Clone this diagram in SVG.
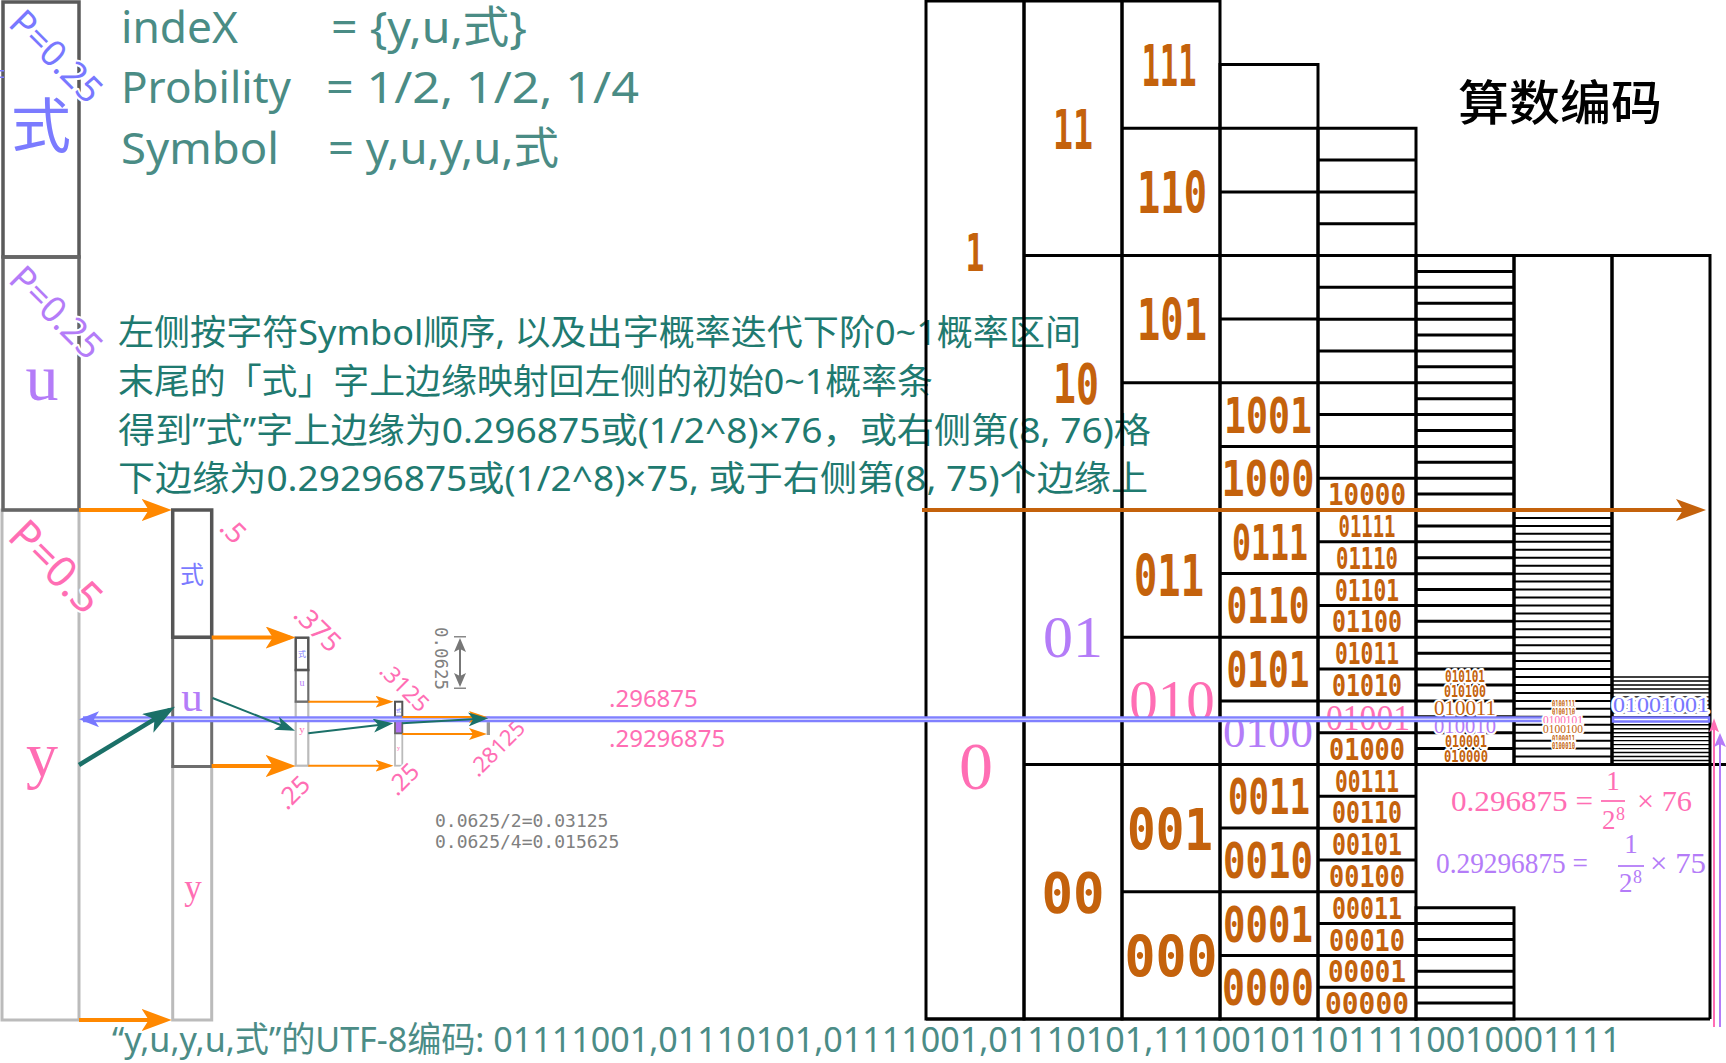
<svg xmlns="http://www.w3.org/2000/svg" width="1726" height="1063" viewBox="0 0 1726 1063">
<style>
.g3{fill:none;stroke:#000;stroke-width:3}
.g2{fill:none;stroke:#000;stroke-width:2}
.g1{fill:none;stroke:#000;stroke-width:1.4}
.bin{font-family:'DejaVu Sans Mono',monospace;font-weight:bold;fill:#c4620c;text-anchor:middle}
.ser{font-family:'Liberation Serif',serif;text-anchor:middle}
.pk{fill:#ff6eb4}.pu{fill:#b47cf8}.bl{fill:#7878ff}.br{fill:#c4620c}
.halo{stroke:#fff;stroke-width:4;paint-order:stroke;stroke-linejoin:round}
.lab{font-family:'Noto Sans',sans-serif;fill:#ff6eb4}
.cn{font-family:'Noto Sans','Noto Sans CJK SC',sans-serif}
.mono{font-family:'DejaVu Sans Mono',monospace;fill:#808080}
.oa{fill:none;stroke:#ff8800;stroke-width:4}
.oas{fill:none;stroke:#ff8800;stroke-width:2}
.ta{fill:none;stroke:#1b7068;stroke-width:4.5}
.tas{fill:none;stroke:#1b7068;stroke-width:2}
</style>
<defs>
<marker id="ah-or" viewBox="0 0 30 22" markerUnits="userSpaceOnUse" markerWidth="30" markerHeight="22" refX="24" refY="11" orient="auto"><path d="M0,0 L30,11 L0,22 L7,11 Z" fill="#ff8800"/></marker>
<marker id="ah-ors" viewBox="0 0 18 12" markerUnits="userSpaceOnUse" markerWidth="18" markerHeight="12" refX="14" refY="6" orient="auto"><path d="M0,0 L18,6 L0,12 L4,6 Z" fill="#ff8800"/></marker>
<marker id="ah-teal" viewBox="0 0 32 22" markerUnits="userSpaceOnUse" markerWidth="32" markerHeight="22" refX="26" refY="11" orient="auto"><path d="M0,0 L32,11 L0,22 L8,11 Z" fill="#1b7068"/></marker>
<marker id="ah-teals" viewBox="0 0 20 14" markerUnits="userSpaceOnUse" markerWidth="20" markerHeight="14" refX="16" refY="7" orient="auto"><path d="M0,0 L20,7 L0,14 L5,7 Z" fill="#1b7068"/></marker>
<marker id="ah-blue" viewBox="0 0 20 16" markerUnits="userSpaceOnUse" markerWidth="20" markerHeight="16" refX="16" refY="8" orient="auto"><path d="M0,0 L20,8 L0,16 L5,8 Z" fill="#7878ff"/></marker>
<marker id="ah-brown" viewBox="0 0 30 22" markerUnits="userSpaceOnUse" markerWidth="30" markerHeight="22" refX="24" refY="11" orient="auto"><path d="M0,0 L30,11 L0,22 L7,11 Z" fill="#c4620c"/></marker>
<marker id="ah-gray" viewBox="0 0 14 12" markerUnits="userSpaceOnUse" markerWidth="14" markerHeight="12" refX="10" refY="6" orient="auto-start-reverse"><path d="M0,0 L14,6 L0,12 L3,6 Z" fill="#777"/></marker>
<marker id="ah-pink" viewBox="0 0 14 10" markerUnits="userSpaceOnUse" markerWidth="14" markerHeight="10" refX="10" refY="5" orient="auto"><path d="M0,0 L14,5 L0,10 L3,5 Z" fill="#ff6eb4"/></marker>
<marker id="ah-purple" viewBox="0 0 14 12" markerUnits="userSpaceOnUse" markerWidth="14" markerHeight="12" refX="10" refY="6" orient="auto"><path d="M0,0 L14,6 L0,12 L3,6 Z" fill="#b47cf8"/></marker>
</defs>
<rect width="1726" height="1063" fill="#fff"/>

<!-- header text -->
<g id="header" font-family="'Noto Sans','Noto Sans CJK SC',sans-serif" font-size="44" fill="#4a8c85">
<text x="121" y="43" textLength="117" lengthAdjust="spacingAndGlyphs">indeX</text>
<text x="331" y="43" textLength="196" lengthAdjust="spacingAndGlyphs">= {y,u,式}</text>
<text x="121" y="103" textLength="170" lengthAdjust="spacingAndGlyphs">Probility</text>
<text x="326" y="103" textLength="313" lengthAdjust="spacingAndGlyphs">= 1/2, 1/2, 1/4</text>
<text x="121" y="164" textLength="158" lengthAdjust="spacingAndGlyphs">Symbol</text>
<text x="328" y="164" textLength="231" lengthAdjust="spacingAndGlyphs">= y,u,y,u,式</text>
</g>

<g id="note" class="cn" font-size="35" fill="#1f7a70">
<text x="118" y="345" textLength="963" lengthAdjust="spacingAndGlyphs">左侧按字符Symbol顺序, 以及出字概率迭代下阶0~1概率区间</text>
<text x="118" y="394" textLength="815" lengthAdjust="spacingAndGlyphs">末尾的「式」字上边缘映射回左侧的初始0~1概率条</text>
<text x="118" y="443" textLength="1033" lengthAdjust="spacingAndGlyphs">得到”式”字上边缘为0.296875或(1/2^8)×76，或右侧第(8, 76)格</text>
<text x="118" y="491" textLength="1030" lengthAdjust="spacingAndGlyphs">下边缘为0.29296875或(1/2^8)×75, 或于右侧第(8, 75)个边缘上</text>
</g>

<g id="title">
<text x="1458" y="120" font-family="'Noto Sans CJK SC',sans-serif" font-size="48" font-weight="500" fill="#000" textLength="204" lengthAdjust="spacingAndGlyphs">算数编码</text>
</g>

<g id="utf8">
<text x="112" y="1052" class="cn" font-size="35" fill="#4b8c86" textLength="1509" lengthAdjust="spacingAndGlyphs">“y,u,y,u,式”的UTF-8编码: 01111001,01110101,01111001,01110101,111001011011110010001111</text>
</g>

<!-- left probability bar -->
<g id="bar-y">
<rect x="2" y="510" width="77" height="510" fill="none" stroke="#bbb" stroke-width="3"/>
<text class="lab halo" font-size="43" transform="translate(6,538) rotate(45)">P=0.5</text>
<text class="ser pk" x="42" y="776" font-size="64">y</text>
</g>
<g id="bar-shi">
<rect x="3" y="2" width="76" height="255" fill="none" stroke="#5a5a5a" stroke-width="3.5"/>
<text class="lab halo" font-size="36" style="fill:#7878ff" transform="translate(7,25) rotate(45)">P=0.25</text>
<text x="41" y="148" font-family="'Noto Sans CJK SC',sans-serif" font-size="60" text-anchor="middle" fill="#7b7bff">式</text>
<path d="M0,70.7 H4 M0,77.3 H4" stroke="#7b7bff" stroke-width="1.5"/>
</g>
<g id="bar-u">
<rect x="3" y="257" width="76" height="253" fill="none" stroke="#666" stroke-width="3.5"/>
<text class="lab halo" font-size="36" style="fill:#b47cf8" transform="translate(7,281) rotate(45)">P=0.25</text>
<text class="ser pu" x="42" y="400" font-size="66">u</text>
</g>

<!-- iteration 1 -->
<g id="step1">
<rect x="172.7" y="766.5" width="39" height="253.5" fill="none" stroke="#bbb" stroke-width="3"/>
<rect x="172.7" y="637.3" width="39" height="129.2" fill="none" stroke="#6e6e6e" stroke-width="3"/>
<rect x="172.7" y="510" width="39" height="127.3" fill="none" stroke="#555" stroke-width="3.5"/>
<text x="192" y="583" font-family="'Noto Sans CJK SC',sans-serif" font-size="24" text-anchor="middle" fill="#7b7bff">式</text>
<text class="ser pu" x="192" y="711" font-size="43">u</text>
<text class="ser pk" x="193" y="899" font-size="35">y</text>
<text class="lab halo" font-size="28" transform="translate(218,529) rotate(45)">.5</text>
</g>
<g id="step2">
<rect x="295.7" y="701.7" width="12.6" height="64" fill="none" stroke="#bbb" stroke-width="2.2"/>
<rect x="295.7" y="670" width="12.6" height="31.7" fill="none" stroke="#6e6e6e" stroke-width="2.2"/>
<rect x="295.7" y="637.7" width="12.6" height="32.3" fill="none" stroke="#555" stroke-width="2.5"/>
<text x="302" y="657" font-family="'Noto Sans CJK SC',sans-serif" font-size="8" text-anchor="middle" fill="#7b7bff">式</text>
<text class="ser pu" x="302" y="686" font-size="10">u</text>
<text class="ser pk" x="302" y="733" font-size="11">y</text>
<text class="lab halo" font-size="27" transform="translate(292,616) rotate(45)">.375</text>
<text class="lab halo" font-size="25" transform="translate(287,811) rotate(-45)">.25</text>
</g>
<g id="step3">
<rect x="395" y="733.3" width="7.3" height="32.4" fill="none" stroke="#bbb" stroke-width="1.8"/>
<rect x="395" y="716.7" width="7.3" height="16.6" fill="#b070f0" stroke="#666" stroke-width="1.8"/>
<rect x="395" y="701.7" width="7.3" height="15" fill="none" stroke="#555" stroke-width="2"/>
<text x="398.6" y="712" font-family="'Noto Sans CJK SC',sans-serif" font-size="5" text-anchor="middle" fill="#7b7bff">式</text>
<text class="ser pk" x="398.6" y="750" font-size="6">y</text>
<text class="lab halo" font-size="23" transform="translate(378,672) rotate(45)">.3125</text>
<text class="lab halo" font-size="24" transform="translate(397,797) rotate(-45)">.25</text>
</g>
<g id="step4">
<rect x="486.7" y="716.7" width="3.3" height="5.5" fill="#8a8aff"/>
<rect x="486.7" y="722.2" width="3.3" height="12.8" fill="#999"/>
<text class="lab halo" font-size="22" transform="translate(478,778) rotate(-45)">.28125</text>
</g>
<g id="calc">
<text class="mono" font-size="18" transform="translate(435,627) rotate(90)" textLength="63" lengthAdjust="spacingAndGlyphs">0.0625</text>
<path d="M454,636.7 H466 M454,688.3 H466" stroke="#888" stroke-width="1.5"/>
<path d="M460,642 V683" stroke="#777" stroke-width="2" marker-start="url(#ah-gray)" marker-end="url(#ah-gray)"/>
<text class="mono" x="435" y="827" font-size="18">0.0625/2=0.03125</text>
<text class="mono" x="435" y="848" font-size="18">0.0625/4=0.015625</text>
<text class="lab" x="609" y="707" font-size="24">.296875</text>
<text class="lab" x="609" y="747" font-size="24">.29296875</text>
</g>

<!-- binary interval grid -->
<g id="grid-col1">
<path class="g3" d="M926,1 H1024 V1019 H926 Z M926,510 H1024"/>
<text class="bin" x="975" y="271" font-size="52" textLength="19" lengthAdjust="spacingAndGlyphs">1</text>
<text class="ser pk" x="976" y="789" font-size="68">0</text>
</g>
<g id="grid-col2">
<path class="g3" d="M1024,1 H1122 V1019 H1024 Z M1024,255.5 H1122 M1024,510 H1122 M1024,764.5 H1122"/>
<text class="bin" x="1073" y="149" font-size="56" textLength="40" lengthAdjust="spacingAndGlyphs">11</text>
<text class="bin" x="1076" y="403" font-size="56" textLength="46" lengthAdjust="spacingAndGlyphs">10</text>
<text class="ser pu" x="1073" y="657" font-size="60">01</text>
<text class="bin" x="1073" y="912" font-size="56" textLength="63" lengthAdjust="spacingAndGlyphs">00</text>
</g>
<g id="grid-col3">
<path class="g3" d="M1122,1 H1220 V1019 H1122 Z M1122,128.25 H1220 M1122,255.5 H1220 M1122,382.75 H1220 M1122,510 H1220 M1122,637.25 H1220 M1122,764.5 H1220 M1122,891.75 H1220"/>
<text class="bin" x="1169" y="86" font-size="57" textLength="55" lengthAdjust="spacingAndGlyphs">111</text>
<text class="bin" x="1172" y="213" font-size="57" textLength="70" lengthAdjust="spacingAndGlyphs">110</text>
<text class="bin" x="1172" y="340" font-size="57" textLength="70" lengthAdjust="spacingAndGlyphs">101</text>
<text class="bin" x="1169" y="596" font-size="57" textLength="70" lengthAdjust="spacingAndGlyphs">011</text>
<text class="ser pk" x="1172" y="720" font-size="57">010</text>
<text class="bin" x="1170" y="850" font-size="57" textLength="86" lengthAdjust="spacingAndGlyphs">001</text>
<text class="bin" x="1171" y="977" font-size="57" textLength="93" lengthAdjust="spacingAndGlyphs">000</text>
</g>
<g id="grid-col4">
<path class="g3" d="M1220,64.6 H1318 V1019 H1220 Z M1220,128.25 H1318 M1220,191.9 H1318 M1220,255.5 H1318 M1220,319.1 H1318 M1220,382.75 H1318 M1220,446.4 H1318 M1220,510 H1318 M1220,573.6 H1318 M1220,637.25 H1318 M1220,700.9 H1318 M1220,764.5 H1318 M1220,828.1 H1318 M1220,891.75 H1318 M1220,955.4 H1318"/>
<text class="bin" x="1268" y="433" font-size="49" textLength="88" lengthAdjust="spacingAndGlyphs">1001</text>
<text class="bin" x="1268" y="496" font-size="49" textLength="93" lengthAdjust="spacingAndGlyphs">1000</text>
<text class="bin" x="1270" y="560" font-size="49" textLength="76" lengthAdjust="spacingAndGlyphs">0111</text>
<text class="bin" x="1268" y="623" font-size="49" textLength="83" lengthAdjust="spacingAndGlyphs">0110</text>
<text class="bin" x="1268" y="687" font-size="49" textLength="83" lengthAdjust="spacingAndGlyphs">0101</text>
<text class="ser pu" x="1268" y="747" font-size="45">0100</text>
<text class="bin" x="1269" y="814" font-size="49" textLength="82" lengthAdjust="spacingAndGlyphs">0011</text>
<text class="bin" x="1268" y="878" font-size="49" textLength="90" lengthAdjust="spacingAndGlyphs">0010</text>
<text class="bin" x="1268" y="942" font-size="49" textLength="90" lengthAdjust="spacingAndGlyphs">0001</text>
<text class="bin" x="1268" y="1005" font-size="49" textLength="92" lengthAdjust="spacingAndGlyphs">0000</text>
</g>
<g id="grid-col5">
<path class="g3" d="M1318,128.25 H1416 V1019 H1318 Z M1318,160.06 H1416 M1318,191.88 H1416 M1318,223.69 H1416 M1318,255.5 H1416 M1318,287.31 H1416 M1318,319.13 H1416 M1318,350.94 H1416 M1318,382.75 H1416 M1318,414.56 H1416 M1318,446.38 H1416 M1318,478.19 H1416 M1318,510 H1416 M1318,541.81 H1416 M1318,573.63 H1416 M1318,605.44 H1416 M1318,637.25 H1416 M1318,669.06 H1416 M1318,700.88 H1416 M1318,732.69 H1416 M1318,764.5 H1416 M1318,796.31 H1416 M1318,828.13 H1416 M1318,859.94 H1416 M1318,891.75 H1416 M1318,923.56 H1416 M1318,955.38 H1416 M1318,987.19 H1416"/>
<g font-size="30">
<text class="bin" x="1367" y="505" textLength="78" lengthAdjust="spacingAndGlyphs">10000</text>
<text class="bin" x="1367" y="537" textLength="57" lengthAdjust="spacingAndGlyphs">01111</text>
<text class="bin" x="1367" y="569" textLength="62" lengthAdjust="spacingAndGlyphs">01110</text>
<text class="bin" x="1367" y="600.5" textLength="64" lengthAdjust="spacingAndGlyphs">01101</text>
<text class="bin" x="1367" y="632" textLength="70" lengthAdjust="spacingAndGlyphs">01100</text>
<text class="bin" x="1367" y="664" textLength="64" lengthAdjust="spacingAndGlyphs">01011</text>
<text class="bin" x="1367" y="696" textLength="70" lengthAdjust="spacingAndGlyphs">01010</text>
<text class="bin" x="1367" y="759.5" textLength="76" lengthAdjust="spacingAndGlyphs">01000</text>
<text class="bin" x="1367" y="791.5" textLength="64" lengthAdjust="spacingAndGlyphs">00111</text>
<text class="bin" x="1367" y="823" textLength="70" lengthAdjust="spacingAndGlyphs">00110</text>
<text class="bin" x="1367" y="855" textLength="70" lengthAdjust="spacingAndGlyphs">00101</text>
<text class="bin" x="1367" y="887" textLength="76" lengthAdjust="spacingAndGlyphs">00100</text>
<text class="bin" x="1367" y="918.5" textLength="70" lengthAdjust="spacingAndGlyphs">00011</text>
<text class="bin" x="1367" y="950.5" textLength="76" lengthAdjust="spacingAndGlyphs">00010</text>
<text class="bin" x="1367" y="982" textLength="78" lengthAdjust="spacingAndGlyphs">00001</text>
<text class="bin" x="1367" y="1014" textLength="84" lengthAdjust="spacingAndGlyphs">00000</text>
</g>
<text class="ser pk" x="1368" y="729.5" font-size="35" textLength="84" lengthAdjust="spacingAndGlyphs">01001</text>
</g>
<g id="grid-col6">
<path class="g3" d="M1416,255.5 H1514 V764.5 H1416 Z M1416,271.41 H1514 M1416,287.31 H1514 M1416,303.22 H1514 M1416,319.13 H1514 M1416,335.03 H1514 M1416,350.94 H1514 M1416,366.84 H1514 M1416,382.75 H1514 M1416,398.66 H1514 M1416,414.56 H1514 M1416,430.47 H1514 M1416,446.38 H1514 M1416,462.28 H1514 M1416,478.19 H1514 M1416,494.09 H1514 M1416,510 H1514 M1416,525.91 H1514 M1416,541.81 H1514 M1416,557.72 H1514 M1416,573.63 H1514 M1416,589.53 H1514 M1416,605.44 H1514 M1416,621.34 H1514 M1416,637.25 H1514 M1416,653.16 H1514 M1416,669.06 H1514 M1416,684.97 H1514 M1416,700.88 H1514 M1416,716.78 H1514 M1416,732.69 H1514 M1416,748.59 H1514 M1416,907.66 H1514 V1019 H1416 Z M1416,923.56 H1514 M1416,939.47 H1514 M1416,955.38 H1514 M1416,971.28 H1514 M1416,987.19 H1514 M1416,1003.09 H1514"/>
<text class="bin halo" x="1465" y="682" font-size="15" textLength="40" lengthAdjust="spacingAndGlyphs">010101</text>
<text class="bin halo" x="1465" y="697" font-size="15" textLength="42" lengthAdjust="spacingAndGlyphs">010100</text>
<text class="ser br halo" x="1465" y="714.5" font-size="22" textLength="62" lengthAdjust="spacingAndGlyphs">010011</text>
<text class="ser pu halo" x="1465" y="732.5" font-size="22" textLength="62" lengthAdjust="spacingAndGlyphs">010010</text>
<text class="bin halo" x="1466" y="747" font-size="15" textLength="42" lengthAdjust="spacingAndGlyphs">010001</text>
<text class="bin halo" x="1466" y="762" font-size="15" textLength="44" lengthAdjust="spacingAndGlyphs">010000</text>
</g>
<g id="grid-col7">
<path class="g3" d="M1514,255.5 H1612 V764.5 H1514 Z"/>
<path class="g2" d="M1514,510 H1612 M1514,517.95 H1612 M1514,525.91 H1612 M1514,533.86 H1612 M1514,541.81 H1612 M1514,549.77 H1612 M1514,557.72 H1612 M1514,565.67 H1612 M1514,573.63 H1612 M1514,581.58 H1612 M1514,589.53 H1612 M1514,597.48 H1612 M1514,605.44 H1612 M1514,613.39 H1612 M1514,621.34 H1612 M1514,629.3 H1612 M1514,637.25 H1612 M1514,645.2 H1612 M1514,653.16 H1612 M1514,661.11 H1612 M1514,669.06 H1612 M1514,677.02 H1612 M1514,684.97 H1612 M1514,692.92 H1612 M1514,700.88 H1612 M1514,708.83 H1612 M1514,716.78 H1612 M1514,724.73 H1612 M1514,732.69 H1612 M1514,740.64 H1612 M1514,748.59 H1612 M1514,756.55 H1612"/>
</g>
<g id="grid-col8">
<path class="g3" d="M1612,255.5 H1710 V1019 M1612,255.5 V764.5 M1416,764.5 H1726 M926,1019 H1710"/>
<path class="g1" d="M1612,760.52 H1710 M1612,756.55 H1710 M1612,752.57 H1710 M1612,748.59 H1710 M1612,744.62 H1710 M1612,740.64 H1710 M1612,736.66 H1710 M1612,732.69 H1710 M1612,728.71 H1710 M1612,724.73 H1710 M1612,720.75 H1710 M1612,716.78 H1710 M1612,712.8 H1710 M1612,708.83 H1710 M1612,704.85 H1710 M1612,700.88 H1710 M1612,696.9 H1710 M1612,692.92 H1710 M1612,688.95 H1710 M1612,684.97 H1710 M1612,680.99 H1710 M1612,677.02 H1710"/>
</g>

<!-- connectors -->
<g id="connectors">
<path class="oa" d="M79,510 H165.7" marker-end="url(#ah-or)"/>
<path class="oa" d="M211.7,637.5 H289.7" marker-end="url(#ah-or)"/>
<path class="oa" d="M211.7,766 H289.7" marker-end="url(#ah-or)"/>
<path class="oa" d="M79,1020 H165.7" marker-end="url(#ah-or)"/>
<path class="oas" d="M308.3,701.7 H389.5" marker-end="url(#ah-ors)"/>
<path class="oas" d="M308.3,765.7 H389.5" marker-end="url(#ah-ors)"/>
<path d="M83,719.2 H1542" stroke="#8080ff" stroke-width="6" fill="none"/>
<path d="M83,719.2 H1542" stroke="#d4d4ff" stroke-width="1.6" fill="none"/>
<path d="M110,719.2 H83" stroke="none" fill="none" marker-end="url(#ah-blue)"/>
<path class="oas" d="M402.3,717 H483" marker-end="url(#ah-ors)"/>
<path class="oas" d="M402.3,734 H483" marker-end="url(#ah-ors)"/>
<path class="ta" d="M79,765 L169.9,709.8" marker-end="url(#ah-teal)"/>
<path class="tas" d="M212.5,698 L291.3,729.2" marker-end="url(#ah-teals)"/>
<path class="tas" d="M308.3,733.3 L389.3,723.8" marker-end="url(#ah-teals)"/>
<path class="tas" d="M402.3,723.3 L484.3,718.5" marker-end="url(#ah-teals)"/>
<path d="M922,510 H1700" stroke="#c4620c" stroke-width="4" fill="none" marker-end="url(#ah-brown)"/>
<path d="M1714,1027 V722.3" stroke="#ff6eb4" stroke-width="2" fill="none" marker-end="url(#ah-pink)"/>
<path d="M1720,1027 V737" stroke="#b47cf8" stroke-width="2" fill="none" marker-end="url(#ah-purple)"/>
</g>

<!-- labels over the band -->
<g id="col7-labels">
<text class="bin halo" x="1563.5" y="707" font-size="9" textLength="23" lengthAdjust="spacingAndGlyphs">0100111</text>
<text class="bin halo" x="1563.5" y="715" font-size="9" textLength="23" lengthAdjust="spacingAndGlyphs">0100110</text>
<text class="ser pk halo" x="1563" y="724" font-size="12" textLength="40" lengthAdjust="spacingAndGlyphs">0100101</text>
<text class="ser br halo" x="1563" y="733" font-size="12" textLength="40" lengthAdjust="spacingAndGlyphs">0100100</text>
<text class="bin halo" x="1563.5" y="741.5" font-size="9" textLength="23" lengthAdjust="spacingAndGlyphs">0100011</text>
<text class="bin halo" x="1563.5" y="749" font-size="9" textLength="23" lengthAdjust="spacingAndGlyphs">0100010</text>
</g>
<g id="col8-label">
<rect x="1613" y="717.5" width="96" height="4" fill="#fff" stroke="#7878ff" stroke-width="2.5"/>
<text class="ser bl halo" x="1661" y="711.5" font-size="21" textLength="96" lengthAdjust="spacingAndGlyphs" style="stroke-width:5">01001001</text>
</g>

<g id="formulas" font-family="'Liberation Serif',serif" font-size="29">
<g fill="#ff6eb4">
<text x="1451" y="811" textLength="142" lengthAdjust="spacingAndGlyphs">0.296875 =</text>
<text x="1613" y="790" font-size="27" text-anchor="middle">1</text>
<path d="M1601,801 H1625" stroke="#ff6eb4" stroke-width="1.8"/>
<text x="1602" y="829" font-size="27">2</text>
<text x="1616" y="820" font-size="18">8</text>
<text x="1637" y="811" textLength="55" lengthAdjust="spacingAndGlyphs">× 76</text>
</g>
<g fill="#b47cf8">
<text x="1436" y="873" textLength="152" lengthAdjust="spacingAndGlyphs">0.29296875 =</text>
<text x="1631" y="853" font-size="27" text-anchor="middle">1</text>
<path d="M1618,866 H1644" stroke="#b47cf8" stroke-width="1.8"/>
<text x="1619" y="892" font-size="27">2</text>
<text x="1633" y="883" font-size="18">8</text>
<text x="1650" y="873" textLength="56" lengthAdjust="spacingAndGlyphs">× 75</text>
</g>
</g>
</svg>
